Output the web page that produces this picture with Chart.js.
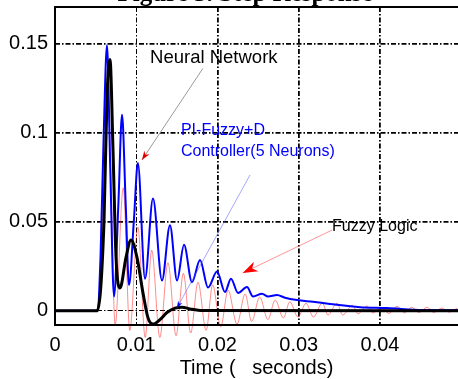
<!DOCTYPE html>
<html>
<head>
<meta charset="utf-8">
<script src="https://cdn.jsdelivr.net/npm/chart.js@4.4.0/dist/chart.umd.min.js"></script>
<style>
  html, body { margin: 0; padding: 0; background: #fff; }
</style>
</head>
<body>
<canvas id="stepChart" width="458" height="379"></canvas>
<script>
// AXIS TICKS
const xTicks = [0, 0.01, 0.02, 0.03, 0.04];
const xTickLabels = ['0', '0.01', '0.02', '0.03', '0.04'];
const yTicks = [0, 0.05, 0.1, 0.15];
const yTickLabels = ['0', '0.05', '0.1', '0.15'];

// PI-Fuzzy+D controller (blue)
const pidTime = [0, 0.0052, 0.0056, 0.0060, 0.0064, 0.0068, 0.00726, 0.0078, 0.00825, 0.0087, 0.00911,
  0.0097, 0.0102, 0.01108, 0.01206, 0.01317, 0.01415, 0.01502, 0.01588, 0.01686, 0.01785, 0.01883,
  0.01994, 0.02092, 0.02166, 0.02252, 0.02363, 0.02437, 0.02548, 0.02622, 0.02732, 0.02831, 0.02978,
  0.03175, 0.03385, 0.03754, 0.04086, 0.04529, 0.0496];
const pidValue = [0, 0, 0.03, 0.10, 0.149, 0.08, 0.008, 0.06, 0.11, 0.06, 0.0145,
  0.05, 0.083, 0.018, 0.063, 0.017, 0.048, 0.017, 0.037, 0.016, 0.0285, 0.013,
  0.022, 0.0105, 0.018, 0.010, 0.0133, 0.008, 0.0095, 0.008, 0.0088, 0.0073, 0.006,
  0.005, 0.0038, 0.002, 0.0015, 0.0004, 0.0003];

// Neural Network (black)
const nnTime = [0, 0.0052, 0.00603, 0.0064, 0.00677, 0.00714, 0.00751, 0.008, 0.00874, 0.00935,
  0.01009, 0.01083, 0.01145, 0.01206, 0.01292, 0.01378, 0.01477, 0.01563, 0.01662, 0.01785, 0.0496];
const nnValue = [0, 0, 0.05, 0.12, 0.141, 0.09, 0.03, 0.0128, 0.03, 0.0397,
  0.03, 0.01, -0.004, -0.0075, -0.005, -0.001, 0.0015, 0.002, 0.001, 0.0002, 0];

// Fuzzy Logic (red)
const flTime = [0, 0.0052, 0.0066, 0.0074, 0.0084, 0.0092, 0.0102, 0.0111, 0.0119, 0.0129, 0.0139,
  0.0149, 0.0158, 0.0167, 0.0176, 0.0186, 0.0194, 0.0204, 0.0213, 0.0224, 0.0234, 0.0242, 0.0252,
  0.0262, 0.0271, 0.0281, 0.0289, 0.0299, 0.0309, 0.0318, 0.0329, 0.0336, 0.0347, 0.0354, 0.0366,
  0.0373, 0.0384, 0.0391, 0.0402, 0.0411, 0.0421, 0.0430, 0.0439, 0.0448, 0.0458, 0.0466, 0.0476,
  0.0485, 0.0495];
const flValue = [0, 0, 0.11, -0.008, 0.069, -0.011, 0.047, -0.015, 0.034, -0.015, 0.027,
  -0.014, 0.021, -0.0125, 0.016, -0.011, 0.0145, -0.009, 0.0115, -0.0075, 0.0094, -0.006, 0.0077,
  -0.005, 0.006, -0.004, 0.005, -0.0035, 0.0042, -0.0035, 0.0043, -0.0024, 0.0043, -0.0024, 0.003,
  -0.0017, 0.0027, -0.0012, 0.0015, -0.0015, 0.0025, -0.0012, 0.002, -0.001, 0.002, -0.001, 0.0015,
  -0.0008, 0.0015];

const toPoints = (t, v) => t.map((x, i) => ({ x: x, y: v[i] }));

const FONT = '"Liberation Sans", Arial, sans-serif';
const gridDash = [5, 2, 1.5, 2];

// notes drawn on top, in data units
const notes = [
  { lines: ['Neural Network'], x: 0.0117, y: 0.1419, size: 18.5, color: '#000',
    from: [0.0182, 0.136], to: [0.0107, 0.0846], lineColor: '#999', headColor: '#e00000', head: 9 },
  { lines: ['PI-Fuzzy+D', 'Controller(5 Neurons)'], x: 0.0155, y: 0.1009, size: 16, color: '#0000ff',
    from: [0.024, 0.0762], to: [0.015, 0.0015], lineColor: 'rgba(80,80,255,0.5)', headColor: '#0000ff', head: 7 },
  { lines: ['Fuzzy Logic'], x: 0.0341, y: 0.0475, size: 16, color: '#000',
    from: [0.0341, 0.0453], to: [0.0231, 0.0212], lineColor: 'rgba(255,80,80,0.6)', headColor: '#ff0000', head: 15 }
];

const framePlugin = {
    id: 'frame',
    beforeDraw(chart) {
        const c = chart.ctx;
        c.save();
        c.fillStyle = '#000';
        c.font = 'bold 25px "Liberation Serif", serif';
        c.textAlign = 'center';
        c.textBaseline = 'alphabetic';
        c.fillText('Figure 5. Step Response', 245, 1);
        c.restore();
    },
    afterDatasetsDraw(chart) {
        const c = chart.ctx;
        const a = chart.chartArea;
        const xs = chart.scales.x, ys = chart.scales.y;
        c.save();
        c.strokeStyle = '#000';
        c.lineWidth = 2;
        c.beginPath();
        c.moveTo(a.right + 2, a.top);
        c.lineTo(a.left, a.top);
        c.lineTo(a.left, a.bottom);
        c.lineTo(a.right + 2, a.bottom);
        c.stroke();

        notes.forEach(n => {
            const x1 = xs.getPixelForValue(n.from[0]), y1 = ys.getPixelForValue(n.from[1]);
            const x2 = xs.getPixelForValue(n.to[0]), y2 = ys.getPixelForValue(n.to[1]);
            c.strokeStyle = n.lineColor;
            c.lineWidth = 1;
            c.beginPath();
            c.moveTo(x1, y1);
            c.lineTo(x2, y2);
            c.stroke();
            const ang = Math.atan2(y2 - y1, x2 - x1);
            const L = n.head, W = n.head * 0.35;
            c.fillStyle = n.headColor;
            c.beginPath();
            c.moveTo(x2, y2);
            c.lineTo(x2 - L * Math.cos(ang) + W * Math.sin(ang), y2 - L * Math.sin(ang) - W * Math.cos(ang));
            c.lineTo(x2 - L * 0.7 * Math.cos(ang), y2 - L * 0.7 * Math.sin(ang));
            c.lineTo(x2 - L * Math.cos(ang) - W * Math.sin(ang), y2 - L * Math.sin(ang) + W * Math.cos(ang));
            c.closePath();
            c.fill();

            c.fillStyle = n.color;
            c.font = n.size + 'px ' + FONT;
            c.textAlign = 'left';
            c.textBaseline = 'middle';
            const tx = xs.getPixelForValue(n.x), ty = ys.getPixelForValue(n.y);
            n.lines.forEach((s, i) => c.fillText(s, tx, ty + i * 21));
        });
        c.restore();
    }
};

new Chart(document.getElementById('stepChart'), {
    type: 'line',
    data: {
        datasets: [
            {
                label: 'Neural Network',
                data: toPoints(nnTime, nnValue),
                borderColor: '#000',
                borderWidth: 3,
                cubicInterpolationMode: 'monotone',
                pointRadius: 0,
                order: 0
            },
            {
                label: 'PI-Fuzzy+D Controller(5 Neurons)',
                data: toPoints(pidTime, pidValue),
                borderColor: '#0000ff',
                borderWidth: 2,
                cubicInterpolationMode: 'monotone',
                pointRadius: 0,
                order: 1
            },
            {
                label: 'Fuzzy Logic',
                data: toPoints(flTime, flValue),
                borderColor: 'rgba(255,0,0,0.45)',
                borderWidth: 1,
                cubicInterpolationMode: 'monotone',
                pointRadius: 0,
                clip: { left: 0, top: 0, right: 0, bottom: 16 },
                order: 2
            }
        ]
    },
    options: {
        responsive: false,
        animation: false,
        devicePixelRatio: 1,
        layout: { padding: { top: 7, left: 0, right: 0, bottom: 0 } },
        plugins: {
            legend: { display: false },
            tooltip: { enabled: false }
        },
        scales: {
            x: {
                type: 'linear',
                min: 0,
                max: 0.0496,
                afterFit: s => { s.height = 54; s.paddingLeft = 0; s.paddingRight = 0; },
                afterBuildTicks: s => { s.ticks = xTicks.map(v => ({ value: v })); },
                ticks: {
                    color: '#000',
                    padding: 8,
                    maxRotation: 0,
                    font: { family: FONT, size: 20 },
                    callback: (v) => xTickLabels[xTicks.indexOf(v)]
                },
                grid: {
                    color: '#000',
                    lineWidth: ctx => (ctx.tick && ctx.tick.value === 0.01 ? 1 : 1.8),
                    drawTicks: false
                },
                border: { display: false, dash: gridDash },
                title: {
                    display: true,
                    text: 'Time (   seconds)',
                    color: '#000',
                    font: { family: FONT, size: 20, lineHeight: 1 },
                    padding: { top: 0, bottom: 1 }
                }
            },
            y: {
                min: -0.008,
                max: 0.1705,
                afterFit: s => { s.width = 55; s.paddingTop = 0; s.paddingBottom = 0; },
                afterBuildTicks: s => { s.ticks = yTicks.map(v => ({ value: v })); },
                ticks: {
                    color: '#000',
                    padding: 7,
                    font: { family: FONT, size: 20 },
                    callback: (v) => yTickLabels[yTicks.indexOf(v)]
                },
                grid: {
                    color: '#000',
                    lineWidth: ctx => (ctx.tick && ctx.tick.value === 0 ? 1 : 1.8),
                    drawTicks: false
                },
                border: { display: false, dash: gridDash }
            }
        }
    },
    plugins: [framePlugin]
});
</script>
</body>
</html>
